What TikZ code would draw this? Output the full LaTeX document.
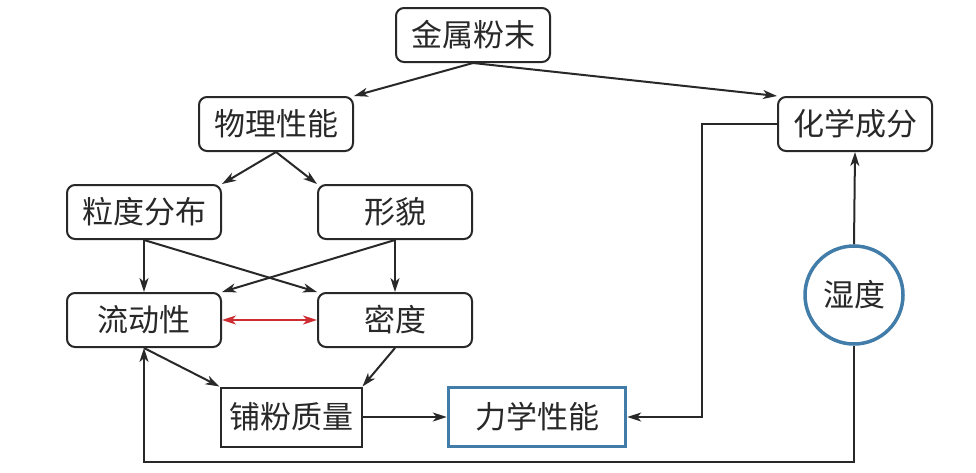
\documentclass[tikz,border=0pt]{standalone}
\usepackage{fontspec}
\newfontfamily\cjk{Noto Sans CJK SC}
\usetikzlibrary{arrows.meta,calc}
\definecolor{ink}{RGB}{40,40,40}
\definecolor{bluebd}{RGB}{66,125,170}
\definecolor{redarr}{RGB}{205,45,50}
\tikzset{
  rbox/.style={draw=ink, line width=2pt, rounded corners=8pt, minimum width=154pt, minimum height=54pt, inner sep=0pt, font=\cjk\fontsize{31}{34}\selectfont, text=ink},
  sbox/.style={draw=ink, line width=2pt, minimum width=141pt, minimum height=59pt, inner sep=0pt, font=\cjk\fontsize{31}{34}\selectfont, text=ink},
  bbox/.style={draw=bluebd, line width=3.5pt, minimum width=177pt, minimum height=59pt, inner sep=0pt, font=\cjk\fontsize{31}{34}\selectfont, text=ink},
  bcirc/.style={draw=bluebd, line width=3.5pt, circle, minimum size=98pt, inner sep=0pt, font=\cjk\fontsize{31}{34}\selectfont, text=ink},
  arr/.style={draw=ink, line width=2pt, -{Stealth[length=14pt,width=9pt,inset=4pt]}},
  redline/.style={draw=redarr, line width=2pt, {Stealth[length=14pt,width=9pt,inset=4pt]}-{Stealth[length=14pt,width=9pt,inset=4pt]}}
}
\begin{document}
\begin{tikzpicture}[x=1pt,y=-1pt]
\useasboundingbox[fill=white] (0,0) rectangle (976,472);
\node[rbox] (metal) at (473,35) {金属粉末};
\node[rbox] (phys) at (276,124) {物理性能};
\node[rbox] (chem) at (855,124) {化学成分};
\node[rbox] (size) at (144,212) {粒度分布};
\node[rbox] (morph) at (395,212) {形貌};
\node[rbox] (flow) at (144,320) {流动性};
\node[rbox] (dens) at (395,320) {密度};
\node[sbox] (layer) at (291,417) {铺粉质量};
\node[bbox] (mech) at (537,417) {力学性能};
\node[bcirc] (hum) at (854,295) {湿度};
\coordinate (t1) at (702,124);
\coordinate (b1) at (854,462);
\coordinate (b2) at (144,462);

\draw[arr] (metal.south) -- (phys.north east);
\draw[arr] (metal.south) -- (chem.north west);
\draw[arr] (phys.south) -- (size.north east);
\draw[arr] (phys.south) -- (morph.north west);
\draw[arr] (size.south) -- (flow.north);
\draw[arr] (size.south) -- (dens.north west);
\draw[arr] (morph.south) -- (flow.north east);
\draw[arr] (morph.south) -- (dens.north);
\draw[redline] (flow.east) -- (dens.west);
\draw[arr] (flow.south) -- (layer.north west);
\draw[arr] (dens.south) -- (layer.north east);
\draw[arr] (layer.east) -- (mech.west);
\draw[arr] (chem.west) -- (t1) |- (mech.east);
\draw[arr] (hum.north) -- (chem.south);
\draw[arr] (hum.south) -- (b1) -- (b2) -- (flow.south);
\end{tikzpicture}
\end{document}
